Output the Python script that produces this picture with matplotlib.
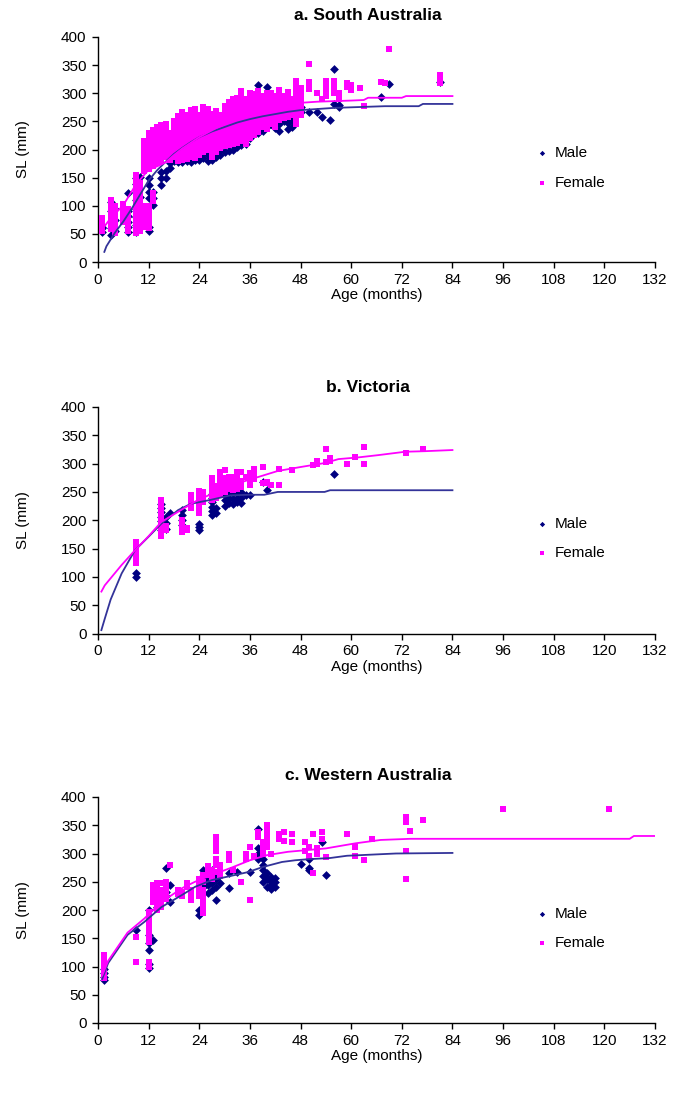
import matplotlib
matplotlib.use('Agg')
import matplotlib.pyplot as plt

plt.rcParams['font.family'] = ['Liberation Sans', 'DejaVu Sans']

''' Data read off the reference: (age in months, [SL values in mm]) per column '''
sa_male = [
    (1, [54, 60, 63]), (3, [48, 60, 90, 107]), (4, [55, 75, 95]),
    (7, [54, 62, 72, 82, 90, 122]), (9, [54, 66, 80, 95, 110, 125, 138, 149]),
    (10, [60, 75, 90, 115, 152]), (12, [55, 62, 113, 125, 137, 149]),
    (13, [101, 113, 125]), (15, [137, 149, 160]), (16, [150, 161]),
    (17, [168, 176, 186, 196]), (18, [180, 190, 200, 210, 220]),
    (19, [178, 186, 196, 206, 216, 226]), (20, [178, 188, 198, 208, 218]),
    (21, [180, 190, 200, 210, 220, 230]), (22, [178, 188, 198, 208, 218, 228, 238]),
    (23, [182, 192, 202, 212, 222]), (24, [182, 192, 202, 212, 222, 232, 242]),
    (25, [185, 195, 205, 215, 225, 235]), (26, [180, 190, 200, 210, 220, 230, 240, 250]),
    (27, [182, 192, 202, 212, 222, 232]), (28, [186, 196, 206, 216, 226, 236, 246]),
    (29, [190, 200, 210, 220, 230, 240]), (30, [196, 206, 216, 226, 236, 246, 256]),
    (31, [198, 208, 218, 228, 238, 248]), (32, [200, 210, 220, 230, 240, 250, 260]),
    (33, [205, 215, 225, 235, 245, 255]), (34, [208, 218, 228, 238, 248, 258, 268]),
    (35, [209, 220, 230, 240, 250, 260]), (36, [220, 230, 240, 250, 260, 270]),
    (37, [233, 243, 253, 263]), (38, [230, 240, 250, 260, 270, 280, 315]),
    (39, [233, 245, 255, 265]), (40, [240, 250, 260, 270, 312]),
    (41, [245, 255, 265, 275, 285]), (42, [238, 248, 258, 268, 278]),
    (43, [233, 245, 255, 265, 275]), (44, [250, 260, 270]),
    (45, [236, 248, 258, 268, 280]), (46, [240, 252, 264]),
    (48, [266, 275]), (50, [266]), (52, [266]), (53, [258]), (55, [252]),
    (56, [281, 343]), (57, [275, 279]), (67, [293]), (69, [316]), (81, [320]),
]
sa_female = [
    (1, [56, 61, 66, 73, 78]), (3, [58, 64, 70, 77, 84, 91, 98, 104, 110]),
    (4, [52, 58, 65, 72, 80, 88, 95, 100]), (6, [72, 80, 88, 96, 104]),
    (7, [55, 62, 70, 78, 86, 94]),
    (9, [52, 58, 65, 72, 80, 88, 96, 104, 112, 120, 128, 136, 144, 150, 155]),
    (10, [56, 63, 70, 78, 86, 95, 104, 113, 122, 132, 140]),
    (11, [62, 70, 78, 86, 94, 100, 162, 170, 178, 186, 194, 202, 210, 216]),
    (12, [60, 68, 76, 84, 92, 100, 166, 174, 182, 190, 198, 206, 214, 222, 230]),
    (13, [108, 116, 123, 170, 178, 186, 194, 202, 210, 218, 226, 234]),
    (14, [176, 184, 192, 200, 208, 216, 224, 232, 240]),
    (15, [180, 188, 196, 204, 212, 220, 228, 236, 244]),
    (16, [186, 194, 202, 210, 218, 226, 234, 242, 246]),
    (17, [182, 190, 198, 206, 214, 222, 230]),
    (18, [186, 194, 202, 210, 218, 226, 234, 242, 250]),
    (19, [180, 188, 196, 204, 212, 220, 228, 236, 244, 252, 260]),
    (20, [182, 190, 198, 206, 214, 222, 230, 238, 246, 254, 262, 266]),
    (21, [184, 192, 200, 208, 216, 224, 232, 240, 248, 256, 262]),
    (22, [186, 194, 202, 210, 218, 226, 234, 242, 250, 258, 266, 270]),
    (23, [185, 193, 201, 209, 217, 225, 233, 241, 249, 257, 265, 272]),
    (24, [190, 198, 206, 214, 222, 230, 238, 246, 254, 262]),
    (25, [196, 204, 212, 220, 228, 236, 244, 252, 260, 268, 276]),
    (26, [200, 208, 216, 224, 232, 240, 248, 256, 264, 272]),
    (27, [186, 194, 202, 210, 218, 226, 234, 242, 250, 258, 264]),
    (28, [196, 204, 212, 220, 228, 236, 244, 252, 260, 268]),
    (29, [202, 210, 218, 226, 234, 242, 250, 258, 262]),
    (30, [206, 214, 222, 230, 238, 246, 254, 262, 270, 278]),
    (31, [208, 216, 224, 232, 240, 248, 256, 264, 272, 280, 285]),
    (32, [210, 218, 226, 234, 242, 250, 258, 266, 274, 282, 290]),
    (33, [212, 220, 228, 236, 244, 252, 260, 268, 276, 284, 292]),
    (34, [216, 224, 232, 240, 248, 256, 264, 272, 280, 288, 296, 304]),
    (35, [210, 218, 226, 234, 242, 250, 258, 266, 274, 282, 290]),
    (36, [220, 228, 236, 244, 252, 260, 268, 276, 284, 292, 300]),
    (37, [226, 234, 242, 250, 258, 266, 274, 282, 290, 298]),
    (38, [232, 240, 248, 256, 264, 272, 280, 288, 296, 304]),
    (39, [240, 248, 256, 264, 272, 280, 288, 295]),
    (40, [236, 244, 252, 260, 268, 276, 284, 292, 300]),
    (41, [246, 254, 262, 270, 278, 286, 294, 300]),
    (42, [240, 248, 256, 264, 272, 280, 288, 296]),
    (43, [252, 260, 268, 276, 284, 292, 300, 305]),
    (44, [256, 264, 272, 280, 288, 296]),
    (45, [258, 266, 274, 282, 290, 298, 302]),
    (46, [262, 270, 278, 286, 290]),
    (47, [246, 256, 266, 276, 286, 296, 306, 314, 322]),
    (48, [262, 270, 280, 290, 300, 310]),
    (50, [307, 314, 320, 352]), (52, [300]), (53, [290]),
    (54, [296, 305, 314, 322]), (56, [300, 308, 316, 322]), (57, [290, 300]),
    (59, [312, 319]), (60, [306, 314]), (62, [310]), (63, [278]),
    (67, [320]), (68, [319]), (69, [379]), (81, [318, 325, 332]),
]
sa_male_fit_age = [1.5, 2, 3, 4, 6, 8, 10, 12, 14, 16, 18, 20, 22, 24, 27, 30, 33, 36,
                   39, 42, 45, 48, 52, 56, 60, 64, 68, 72, 76, 77, 84]
sa_male_fit_sl = [18, 28, 40, 52, 72, 95, 120, 145, 163, 178, 192, 203, 213, 222, 232, 240,
                  248, 254, 259, 263, 267, 270, 272, 274, 275, 276, 277, 277, 277, 281, 281]
sa_female_fit_age = [1.2, 3, 6, 9, 12, 14, 16, 18, 20, 24, 28, 32, 36, 40, 44, 48, 52, 56,
                     60, 63, 64, 72, 73, 84]
sa_female_fit_sl = [60, 78, 101, 138, 164, 170, 177, 190, 202, 222, 238, 251, 262, 270, 277,
                    283, 285, 286, 287, 288, 292, 292, 295, 295]

vic_male = [
    (9, [100, 106]), (15, [182, 190, 198, 206, 214, 222, 229]), (16, [185, 195, 205]),
    (17, [212]), (20, [191, 200, 210, 218]), (24, [182, 188, 194]),
    (27, [209, 216, 224, 232, 240, 247]), (28, [212, 222]), (30, [225, 235, 245]),
    (31, [230, 240, 250]), (32, [228, 238, 248]), (33, [232, 240, 250]),
    (34, [230, 240, 250]), (35, [245]), (36, [245]), (39, [268]), (40, [253]), (56, [282]),
]
vic_female = [
    (9, [125, 132, 138, 145, 150, 156, 162]),
    (15, [173, 180, 188, 196, 205, 213, 222, 230, 235]), (16, [183, 190]),
    (20, [179, 185, 192, 200]), (21, [182, 186]), (22, [221, 228, 236, 244]),
    (24, [212, 222, 232, 242, 251]), (25, [232, 238, 244, 250]),
    (27, [235, 242, 250, 258, 266, 274]), (28, [240, 250, 260]),
    (29, [247, 255, 262, 270, 278, 285]), (30, [250, 258, 266, 275, 288]),
    (31, [255, 262, 270, 276]), (32, [253, 260, 268, 276]), (33, [255, 265, 275, 285]),
    (34, [258, 270, 285]), (35, [276]), (36, [262, 270, 276, 283]), (37, [272, 280, 290]),
    (39, [265, 294]), (40, [265, 268]), (41, [262]), (43, [262, 291]), (46, [288]),
    (51, [298]), (52, [300, 305]), (54, [303, 326]), (55, [305, 310]), (59, [300]),
    (61, [312]), (63, [300, 329]), (73, [318]), (77, [326]),
]
vic_male_fit_age = [0.8, 1.6, 3, 5.6, 8.75, 12, 15, 19, 22, 26.7, 31.4, 36, 39.4, 42.6, 48,
                    53.7, 55, 84]
vic_male_fit_sl = [6, 26, 60, 106, 147, 171, 194, 218, 229, 236, 244, 245, 245, 250, 250,
                   250, 253, 253]
vic_female_fit_age = [0.8, 1.6, 5.6, 8.4, 12, 15, 19, 23.5, 28, 33, 37.8, 42.6, 48, 53.7, 57,
                      61.7, 66.4, 72.8, 77.6, 84]
vic_female_fit_sl = [74, 85, 121, 144, 172, 197, 215, 235, 250, 265, 276, 287, 294, 301, 308,
                     311, 315, 321, 322, 324]

wa_male = [
    (1.5, [76, 82, 88, 95]), (9, [165]), (12, [97, 105, 129, 142, 156, 200]), (13, [147]),
    (14, [205, 215]), (16, [225, 232, 275]), (17, [214, 244]), (24, [191, 200]),
    (25, [240, 250, 260, 271]), (26, [230, 245, 255, 265]), (27, [235, 248, 258, 270]),
    (28, [218, 240, 255, 265]), (29, [247]), (31, [239, 265]), (33, [267]), (36, [267]),
    (38, [290, 300, 310, 344]), (39, [250, 260, 270, 280, 290]), (40, [240, 255, 265]),
    (41, [238, 245, 250, 258]), (42, [241, 250, 257]), (48, [281]),
    (50, [270, 275, 290]), (53, [320]), (54, [262]),
]
wa_female = [
    (1.5, [80, 86, 92, 98, 104, 110, 116, 120]), (9, [108, 152]),
    (12, [99, 108, 143, 152, 160, 168, 176, 184, 192, 196]), (13, [215, 225, 235, 245]),
    (14, [200, 208, 216, 224, 232, 240, 248]), (15, [205, 215, 225, 235, 248]),
    (16, [220, 230, 240, 250]), (17, [279]), (19, [228, 236]), (20, [225, 232]),
    (21, [240, 248]), (22, [218, 225, 235]), (24, [225, 235, 245, 255]),
    (25, [195, 205, 215, 225, 235, 250, 262]), (26, [262, 270, 278]), (27, [255, 262, 270]),
    (28, [268, 280, 290, 305, 315, 325, 330]), (29, [260, 270, 280]), (31, [288, 300]),
    (32, [270]), (34, [250]), (35, [290, 300]), (36, [218, 311]), (37, [296]),
    (38, [330, 338]), (39, [300, 310, 320]), (40, [312, 320, 330, 340, 345, 350]),
    (41, [300]), (43, [325, 335]), (44, [322, 338]), (46, [320, 335]), (49, [305, 320]),
    (50, [295, 312]), (51, [265, 335]), (52, [300, 310]), (53, [325, 338]), (54, [294]),
    (59, [335]), (61, [296, 311]), (63, [289]), (65, [325]),
    (73, [254, 305, 356, 365]), (74, [339]), (77, [360]), (96, [378]), (121, [378]),
]
wa_male_fit_age = [1, 2.4, 7, 11, 15, 20, 23, 27, 32.5, 35.5, 39, 43.6, 46.7, 50, 55, 59,
                   70.6, 84]
wa_male_fit_sl = [78, 106, 156, 179, 205, 227, 241, 253, 262, 267, 276, 285, 288, 290, 292,
                  296, 300, 301]
wa_female_fit_age = [1, 2.4, 7, 11, 15, 20, 23, 27, 32, 36, 40, 45, 54, 61, 67, 74, 126, 127,
                     132]
wa_female_fit_sl = [84, 110, 160, 185, 214, 239, 250, 262, 276, 288, 297, 303, 309, 318, 324,
                    326, 326, 331, 331]

panel_titles = ['a. South Australia', 'b. Victoria', 'c. Western Australia']

''' Plot knobs '''
fig_dims = (6.74, 10.93)
fs = 11
title_fs = 12.5
male_color = '#000080'
female_color = '#FF00FF'
male_line = '#333399'
ax_rects = [
    [98 / 674, 1 - 262 / 1093, 557 / 674, 225 / 1093],
    [98 / 674, 1 - 633.5 / 1093, 557 / 674, 226.5 / 1093],
    [98 / 674, 1 - 1023 / 1093, 557 / 674, 226 / 1093],
]
title_y = [1 - 15 / 1093, 1 - 388 / 1093, 1 - 776 / 1093]


def flatten(cols):
    xs, ys = [], []
    for age, vals in cols:
        for v in vals:
            xs.append(age)
            ys.append(v)
    return xs, ys


panels = [
    (sa_male, sa_female, sa_male_fit_age, sa_male_fit_sl, sa_female_fit_age, sa_female_fit_sl),
    (vic_male, vic_female, vic_male_fit_age, vic_male_fit_sl, vic_female_fit_age, vic_female_fit_sl),
    (wa_male, wa_female, wa_male_fit_age, wa_male_fit_sl, wa_female_fit_age, wa_female_fit_sl),
]

fig = plt.figure(figsize=fig_dims, dpi=100)

for i, (m, f, mfa, mfs, ffa, ffs) in enumerate(panels):
    ax = fig.add_axes(ax_rects[i])
    mx, my = flatten(m)
    fx, fy = flatten(f)
    hm = ax.scatter(mx, my, marker='D', s=20, color=male_color, linewidths=0, zorder=2)
    hf = ax.scatter(fx, fy, marker='s', s=13, color=female_color, linewidths=0, zorder=3)
    ax.plot(mfa, mfs, color=male_line, lw=1.3, zorder=4)
    ax.plot(ffa, ffs, color=female_color, lw=1.3, zorder=5)

    ax.set_xlim(0, 132)
    ax.set_ylim(0, 400)
    ax.set_xticks(range(0, 133, 12))
    ax.set_yticks(range(0, 401, 50))
    for side in ['top', 'right']:
        ax.spines[side].set_visible(False)
    for side in ['left', 'bottom']:
        ax.spines[side].set_linewidth(1.0)
    ax.tick_params(direction='out', length=4.3, width=1.0, labelsize=fs)
    ax.tick_params(axis='x', pad=3.5)
    ax.tick_params(axis='y', pad=4)
    ax.set_xlabel('Age (months)', fontsize=fs, labelpad=1)
    ax.set_ylabel('SL (mm)', fontsize=fs, labelpad=22)

    ax.legend([hm, hf], ['Male', 'Female'], loc='center left', bbox_to_anchor=(0.776, 0.418),
              frameon=False, fontsize=fs, borderpad=0, handlelength=0.6, handletextpad=0.5,
              labelspacing=1.0, scatterpoints=1, markerscale=0.6)

    fig.text(368 / 674, title_y[i], panel_titles[i], ha='center', va='center',
             fontsize=title_fs, fontweight='bold')

fig.savefig('out.png', dpi=100)
